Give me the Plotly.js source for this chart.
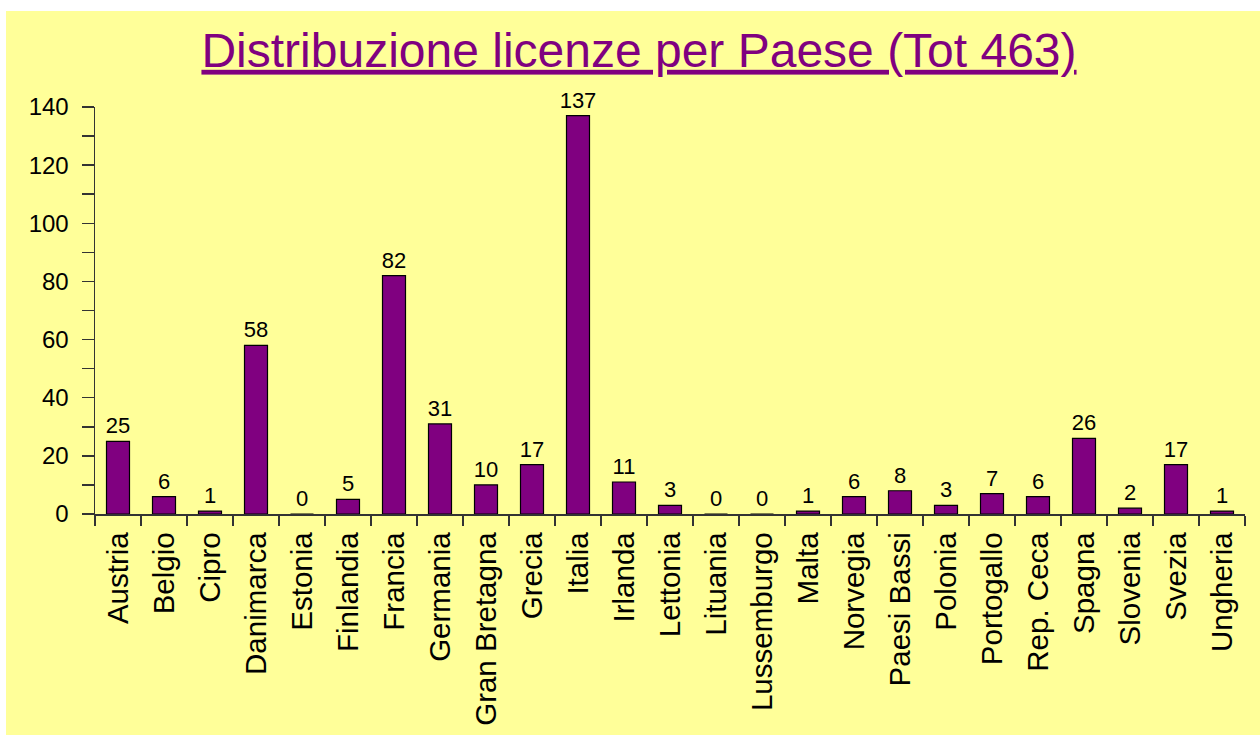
<!DOCTYPE html>
<html>
<head>
<meta charset="utf-8">
<script src="https://cdn.plot.ly/plotly-3.0.1.min.js"></script>
<style>
  html, body { margin: 0; padding: 0; background: #ffffff; }
  #bg { position: absolute; left: 6px; top: 11px; width: 1254px; height: 724px; background: #FFFF99; }
  #chart { position: absolute; left: 0; top: 0; width: 1260px; height: 735px; }
</style>
</head>
<body>
<div id="bg"></div>
<div id="chart"></div>
<script>
const countries = ["Austria","Belgio","Cipro","Danimarca","Estonia","Finlandia","Francia","Germania","Gran Bretagna","Grecia","Italia","Irlanda","Lettonia","Lituania","Lussemburgo","Malta","Norvegia","Paesi Bassi","Polonia","Portogallo","Rep. Ceca","Spagna","Slovenia","Svezia","Ungheria"];
const licenze = [25,6,1,58,0,5,82,31,10,17,137,11,3,0,0,1,6,8,3,7,6,26,2,17,1];
const titleText = "Distribuzione licenze per Paese (Tot 463)";

const FONT = "Liberation Sans, Arial, sans-serif";

const trace = {
  type: "bar",
  x: countries,
  y: licenze,
  text: licenze.map(String),
  textposition: "outside",
  constraintext: "none",
  textfont: { family: FONT, size: 22, color: "#000000" },
  cliponaxis: false,
  marker: { color: "#800080", line: { color: "#000000", width: 1.2 } },
  hoverinfo: "x+y"
};

const layout = {
  width: 1260,
  height: 735,
  margin: { l: 95, r: 15, t: 107, b: 221, pad: 0 },
  paper_bgcolor: "rgba(0,0,0,0)",
  plot_bgcolor: "rgba(0,0,0,0)",
  bargap: 0.5,
  showlegend: false,
  title: {
    text: titleText,
    font: { family: FONT, size: 48, color: "#800080", lineposition: "under" },
    x: 0.5 + 9 / 1260, xref: "container", xanchor: "center",
    y: 1 - 50 / 735, yref: "container", yanchor: "middle"
  },
  xaxis: {
    type: "category",
    range: [-0.5, 24.5],
    tickangle: -90,
    tickfont: { family: FONT, size: 29.5, color: "#000000" },
    ticks: "outside",
    tickson: "boundaries",
    ticklen: 10,
    tickwidth: 1.5,
    tickcolor: "#333333",
    showline: true,
    linecolor: "#333333",
    linewidth: 1.5,
    showgrid: false,
    zeroline: false,
    ticklabelstandoff: 5
  },
  yaxis: {
    range: [0, 140],
    dtick: 20,
    tick0: 0,
    tickfont: { family: FONT, size: 24, color: "#000000" },
    ticks: "outside",
    ticklen: 12,
    tickwidth: 1.5,
    tickcolor: "#333333",
    minor: { dtick: 10, ticks: "outside", ticklen: 12, tickwidth: 1.5, tickcolor: "#333333", showgrid: false },
    showline: true,
    linecolor: "#333333",
    linewidth: 1.5,
    showgrid: false,
    zeroline: false,
    ticklabelstandoff: 8
  }
};

Plotly.newPlot("chart", [trace], layout, { displayModeBar: false, staticPlot: true });
</script>
</body>
</html>
